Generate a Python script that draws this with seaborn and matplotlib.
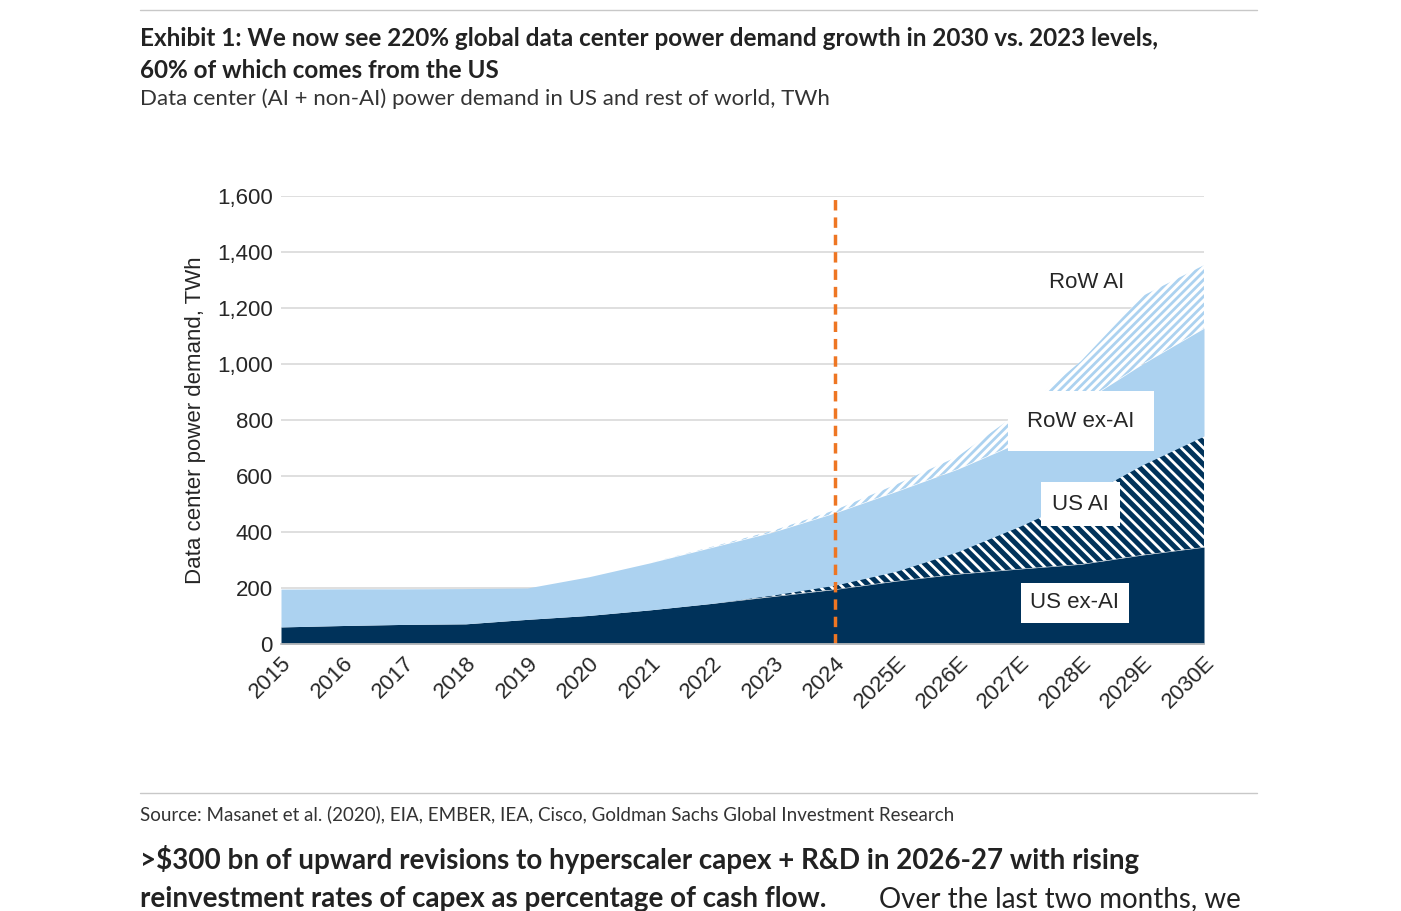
import matplotlib.pyplot as plt
import numpy as np
import seaborn as sns

years = ["2015", "2016", "2017", "2018", "2019", "2020", "2021", "2022", "2023",
         "2024", "2025E", "2026E", "2027E", "2028E", "2029E", "2030E"]
us_ex_ai = [61, 66, 70, 72, 88, 102, 122, 145, 170, 195, 225, 250, 268, 285, 318, 346]
us_ai = [0, 0, 0, 0, 0, 0, 0, 0, 5, 15, 35, 80, 152, 235, 322, 397]
row_ex_ai = [135, 131, 127, 126, 112, 138, 168, 200, 225, 258, 285, 295, 300, 340, 360, 385]
row_ai = [0, 0, 0, 0, 0, 0, 0, 2, 5, 10, 25, 45, 108, 150, 243, 225]

sns.set_theme(style="white")
plt.rcParams["font.family"] = ["Liberation Sans", "DejaVu Sans"]
plt.rcParams["hatch.linewidth"] = 2.0

navy = "#00325a"
light = "#acd2f0"

fig = plt.figure(figsize=(14.01, 9.11), dpi=100)
ax = fig.add_axes([281 / 1401, 1 - 644 / 911, 923 / 1401, 448 / 911])

x = np.arange(len(years))
c1 = np.array(us_ex_ai)
c2 = c1 + np.array(us_ai)
c3 = c2 + np.array(row_ex_ai)
c4 = c3 + np.array(row_ai)

ax.fill_between(x, 0, c1, color=navy, lw=0)
ax.fill_between(x, c1, c2, facecolor=navy, edgecolor="white", hatch="\\\\\\", lw=0)
ax.fill_between(x, c2, c3, color=light, lw=0)
ax.fill_between(x, c3, c4, facecolor="white", edgecolor=light, hatch="////", lw=0)
ax.axvline(9, color="#ee7623", ls=(0, (3, 2)), lw=2.5)

ax.set_xlim(0, len(years) - 1)
ax.set_ylim(0, 1600)
ax.set_yticks(range(0, 1601, 200))
ax.set_yticklabels([f"{v:,}" for v in range(0, 1601, 200)], fontsize=16)
ax.set_xticks(x)
ax.set_xticklabels(years, rotation=45, ha="right", rotation_mode="anchor", fontsize=16)
ax.grid(axis="y", color="#d9d9d9", lw=1.2)
ax.set_axisbelow(True)
for s in ["top", "right", "left"]:
    ax.spines[s].set_visible(False)
ax.spines["bottom"].set_color("#bfbfbf")
ax.tick_params(axis="both", length=0, pad=6)
ax.set_ylabel("Data center power demand, TWh", fontsize=16, labelpad=8)

box = dict(facecolor="white", edgecolor="none", pad=8)
ax.text(13.1, 1290, "RoW AI", fontsize=16, ha="center", va="center")
ax.text(13.0, 795, "RoW ex-AI", fontsize=16, ha="center", va="center",
        bbox=dict(facecolor="white", edgecolor="none", pad=14))
ax.text(13.0, 500, "US AI", fontsize=16, ha="center", va="center", bbox=box)
ax.text(12.9, 147, "US ex-AI", fontsize=16, ha="center", va="center",
        bbox=dict(facecolor="white", edgecolor="none", pad=7))

for yy in [10, 793]:
    fig.add_artist(plt.Line2D([140 / 1401, 1257 / 1401], [1 - yy / 911] * 2, color="#c8c8c8", lw=1))
fig.text(140 / 1401, 1 - 38 / 911,
         "Exhibit 1: We now see 220% global data center power demand growth in 2030 vs. 2023 levels,",
         fontsize=17.5, fontweight="bold", family="Lato", color="#222222", va="center")
fig.text(140 / 1401, 1 - 70 / 911, "60% of which comes from the US",
         fontsize=17.5, fontweight="bold", family="Lato", color="#222222", va="center")
fig.text(140 / 1401, 1 - 99 / 911, "Data center (AI + non-AI) power demand in US and rest of world, TWh",
         fontsize=16, family="Lato", color="#333333", va="center")
fig.text(140 / 1401, 1 - 814 / 911,
         "Source: Masanet et al. (2020), EIA, EMBER, IEA, Cisco, Goldman Sachs Global Investment Research",
         fontsize=13.5, family="Lato", color="#333333", va="center")
fig.text(140 / 1401, 1 - 860 / 911,
         ">$300 bn of upward revisions to hyperscaler capex + R&D in 2026-27 with rising",
         fontsize=20, fontweight="bold", family="Lato", color="#222222", va="center")
fig.text(140 / 1401, 1 - 899 / 911,
         "reinvestment rates of capex as percentage of cash flow.",
         fontsize=20, fontweight="bold", family="Lato", color="#222222", va="center")
fig.text(879 / 1401, 1 - 899 / 911, "Over the last two months, we",
         fontsize=20, family="Lato", color="#222222", va="center")

fig.savefig("out.png", dpi=100)
